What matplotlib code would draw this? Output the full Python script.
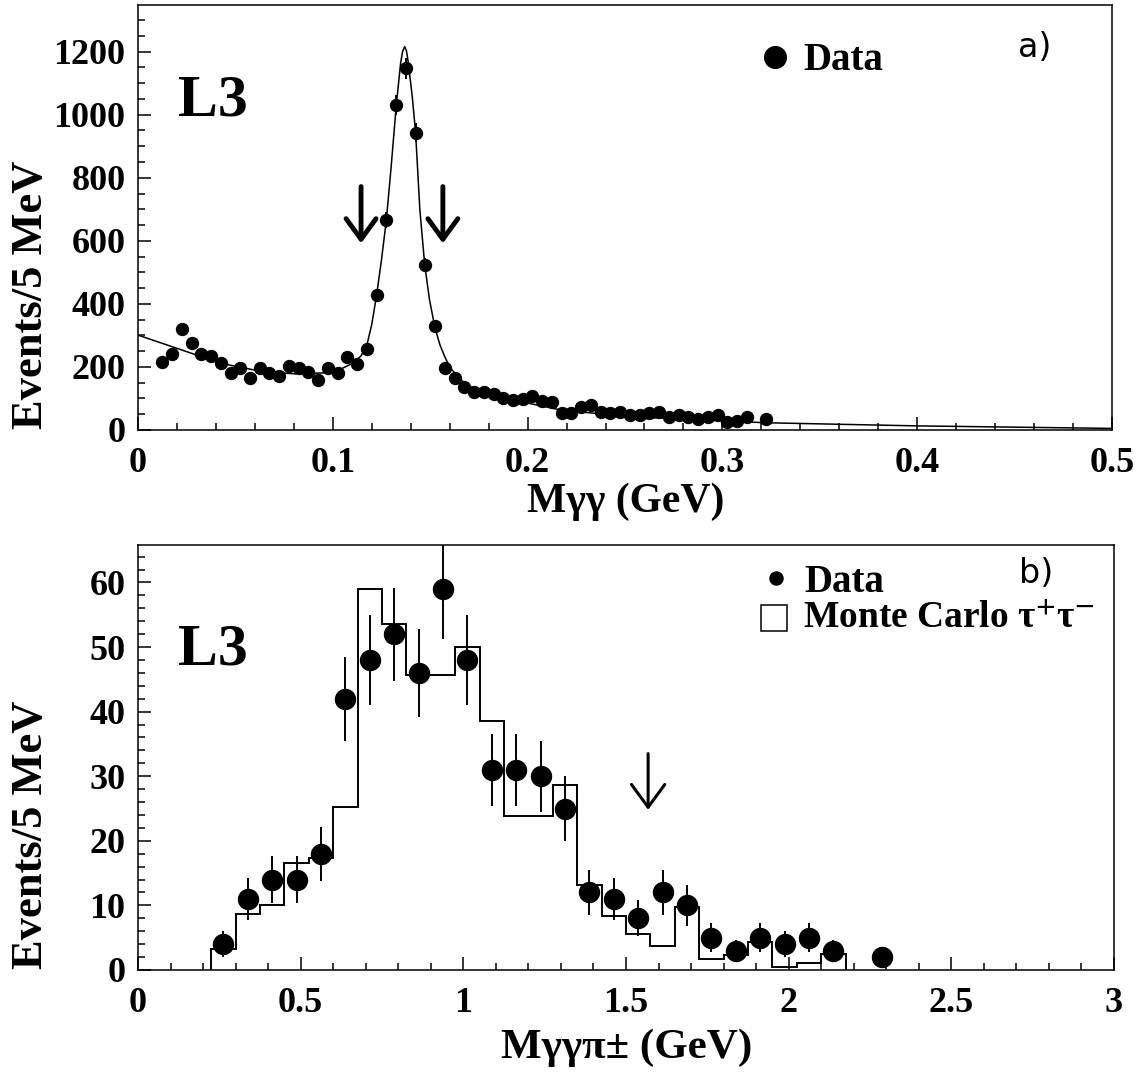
import numpy as np
import matplotlib.pyplot as plt
from matplotlib.ticker import MultipleLocator
from matplotlib.patches import Rectangle

plt.rcParams['font.family'] = ['Liberation Serif', 'DejaVu Serif']
plt.rcParams['font.weight'] = 'bold'
plt.rcParams['mathtext.fontset'] = 'stix'

# --- a) M(gamma gamma) spectrum, 5 MeV bins ---
mgg_x = [0.0125, 0.0175, 0.0225, 0.0275, 0.0325, 0.0375, 0.0425, 0.0475, 0.0525, 0.0575,
         0.0625, 0.0675, 0.0725, 0.0775, 0.0825, 0.0875, 0.0925, 0.0975, 0.1025, 0.1075,
         0.1125, 0.1175, 0.1225, 0.1275, 0.1325, 0.1375, 0.1425, 0.1475, 0.1525, 0.1575,
         0.1625, 0.1675, 0.1725, 0.1775, 0.1825, 0.1875, 0.1925, 0.1975, 0.2025, 0.2075,
         0.2125, 0.2175, 0.2225, 0.2275, 0.2325, 0.2375, 0.2425, 0.2475, 0.2525, 0.2575,
         0.2625, 0.2675, 0.2725, 0.2775, 0.2825, 0.2875, 0.2925, 0.2975, 0.3025, 0.3075,
         0.3125, 0.3225]
mgg_counts = [215, 241, 319, 275, 240, 234, 212, 180, 198, 164,
              196, 180, 172, 203, 198, 183, 160, 198, 180, 232,
              208, 258, 428, 666, 1031, 1147, 943, 523, 331, 198,
              166, 135, 120, 121, 114, 102, 95, 99, 109, 92,
              89, 55, 55, 72, 80, 58, 53, 58, 47, 48,
              53, 58, 42, 48, 42, 34, 42, 48, 26, 30,
              42, 34]
mgg_err = [14.7, 15.5, 17.9, 16.6, 15.5, 15.3, 14.6, 13.4, 14.1, 12.8,
           14.0, 13.4, 13.1, 14.2, 14.1, 13.5, 12.6, 14.1, 13.4, 15.2,
           14.4, 16.1, 20.7, 25.8, 32.1, 33.9, 30.7, 22.9, 18.2, 14.1,
           12.9, 11.6, 11.0, 11.0, 10.7, 10.1, 9.7, 9.9, 10.4, 9.6,
           9.4, 7.4, 7.4, 8.5, 8.9, 7.6, 7.3, 7.6, 6.9, 6.9,
           7.3, 7.6, 6.5, 6.9, 6.5, 5.8, 6.5, 6.9, 5.1, 5.5,
           6.5, 5.8]

# fitted curve
fit_x = [0.0, 0.030, 0.047, 0.064, 0.081, 0.095, 0.103, 0.110, 0.1145, 0.1176,
         0.1200, 0.1225, 0.1250, 0.1275, 0.1300, 0.1326, 0.1348, 0.1358, 0.1369, 0.1378,
         0.1387, 0.1408, 0.1425, 0.1447, 0.1472, 0.1496, 0.1524, 0.1550, 0.1575, 0.1600,
         0.1629, 0.1670, 0.1714, 0.1851, 0.2004, 0.2174, 0.2345, 0.2515, 0.3222, 0.4004,
         0.5]
fit_y = [301, 238, 206, 185, 178, 181, 190, 211, 235, 272,
         335, 428, 540, 666, 838, 1031, 1163, 1200, 1216, 1203,
         1168, 1057, 943, 698, 523, 415, 325, 270, 232, 200,
         178, 152, 135, 106, 85, 63, 53, 42, 23, 13,
         5]

# mass window arrows: x, arrow top, arrow tip
arrows_a = [(0.1145, 772, 592), (0.1565, 772, 592)]

# --- b) M(gamma gamma pi) spectrum ---
mggp_x = [0.2625, 0.3375, 0.4125, 0.4875, 0.5625, 0.6375, 0.7125, 0.7875, 0.8625, 0.9375,
          1.0125, 1.0875, 1.1625, 1.2375, 1.3125, 1.3875, 1.4625, 1.5375, 1.6125, 1.6875,
          1.7625, 1.8375, 1.9125, 1.9875, 2.0625, 2.1375, 2.2875]
mggp_counts = [4, 11, 14, 14, 18, 42, 48, 52, 46, 59,
               48, 31, 31, 30, 25, 12, 11, 8, 12, 10,
               5, 3, 5, 4, 5, 3, 2]
mggp_err = [2.0, 3.3, 3.7, 3.7, 4.2, 6.5, 6.9, 7.2, 6.8, 7.7,
            6.9, 5.6, 5.6, 5.5, 5.0, 3.5, 3.3, 2.8, 3.5, 3.2,
            2.2, 1.7, 2.2, 2.0, 2.2, 1.7, 1.4]

# Monte Carlo tau+tau- histogram
mc_edges = [0.225, 0.3, 0.375, 0.45, 0.525, 0.6, 0.675, 0.75, 0.825, 0.9,
            0.975, 1.05, 1.125, 1.2, 1.275, 1.35, 1.425, 1.5, 1.575, 1.65,
            1.725, 1.8, 1.875, 1.95, 2.025, 2.1, 2.175]
mc_values = [3.3, 8.7, 10.0, 16.6, 17.4, 25.3, 59.0, 53.5, 45.6, 45.6,
             50.0, 38.6, 23.8, 23.8, 28.6, 13.1, 8.3, 5.6, 3.7, 9.7,
             1.7, 2.3, 4.3, 0.4, 1.1, 2.4]

arrows_b = [(1.568, 33.5, 24.8)]

W, H = 1146, 1079
fig = plt.figure(figsize=(W / 100, H / 100), dpi=100)
ax1 = fig.add_axes([138 / W, 1 - 430 / H, (1112 - 138) / W, 425 / H])
ax2 = fig.add_axes([138 / W, 1 - 970 / H, (1114 - 138) / W, 425 / H])


def style_axes(ax):
    for s in ax.spines.values():
        s.set_linewidth(1.1)
    ax.tick_params(which='both', direction='in', top=False, right=False,
                   width=1.1, labelsize=26)
    ax.tick_params(axis='x', pad=12)
    ax.tick_params(axis='y', pad=9)
    ax.tick_params(which='major', length=9.5)
    ax.tick_params(which='minor', length=5)
    for lab in ax.get_xticklabels() + ax.get_yticklabels():
        lab.set_fontweight('bold')


# panel a
ax1.errorbar(mgg_x, mgg_counts, yerr=mgg_err, fmt='o', color='black', ms=8.6,
             elinewidth=1.4, capsize=0)
ax1.plot(fit_x, fit_y, color='black', lw=1.1)
for x, y0, y1 in arrows_a:
    ax1.annotate('', xy=(x, y1), xytext=(x, y0),
                 arrowprops=dict(arrowstyle='->,head_length=0.74,head_width=0.54',
                                 lw=3.5, color='black', shrinkA=0, shrinkB=0,
                                 mutation_scale=20))
ax1.set_xlim(0, 0.5)
ax1.set_ylim(0, 1348)
ax1.xaxis.set_major_locator(MultipleLocator(0.1))
ax1.xaxis.set_minor_locator(MultipleLocator(0.02))
ax1.yaxis.set_major_locator(MultipleLocator(200))
ax1.yaxis.set_minor_locator(MultipleLocator(50))
ax1.set_xticks([0, 0.1, 0.2, 0.3, 0.4, 0.5], ['0', '0.1', '0.2', '0.3', '0.4', '0.5'])
style_axes(ax1)
ax1.set_xlabel('Mγγ (GeV)', fontsize=30, fontweight='bold')
ax1.xaxis.set_label_coords(0.501, -0.124)
ax1.set_ylabel('Events/5 MeV', fontsize=32, fontweight='bold')
ax1.yaxis.set_label_coords(-0.089, 0.317)
ax1.text(0.041, 0.741, 'L3', transform=ax1.transAxes, fontsize=43, fontweight='bold')
ax1.plot([0.654], [0.878], 'o', color='black', ms=15.6, transform=ax1.transAxes, clip_on=False)
ax1.text(0.683, 0.847, 'Data', transform=ax1.transAxes, fontsize=28, fontweight='bold')
ax1.text(0.903, 0.878, 'a)', transform=ax1.transAxes, fontsize=24,
         family='DejaVu Sans', fontweight='normal')

# panel b
ax2.stairs(mc_values, mc_edges, baseline=0, color='black', lw=1.4)
ax2.errorbar(mggp_x, mggp_counts, yerr=mggp_err, fmt='o', color='black', ms=14.4,
             elinewidth=1.4, capsize=0)
for x, y0, y1 in arrows_b:
    ax2.annotate('', xy=(x, y1), xytext=(x, y0),
                 arrowprops=dict(arrowstyle='->,head_length=0.82,head_width=0.6',
                                 lw=2.2, color='black', shrinkA=0, shrinkB=0,
                                 mutation_scale=20))
ax2.set_xlim(0, 3)
ax2.set_ylim(0, 65.8)
ax2.xaxis.set_major_locator(MultipleLocator(0.5))
ax2.xaxis.set_minor_locator(MultipleLocator(0.1))
ax2.yaxis.set_major_locator(MultipleLocator(10))
ax2.yaxis.set_minor_locator(MultipleLocator(2))
ax2.set_xticks([0, 0.5, 1, 1.5, 2, 2.5, 3], ['0', '0.5', '1', '1.5', '2', '2.5', '3'])
style_axes(ax2)
ax2.set_xlabel('Mγγπ± (GeV)', fontsize=31, fontweight='bold')
ax2.xaxis.set_label_coords(0.501, -0.137)
ax2.set_ylabel('Events/5 MeV', fontsize=32, fontweight='bold')
ax2.yaxis.set_label_coords(-0.089, 0.317)
ax2.text(0.041, 0.718, 'L3', transform=ax2.transAxes, fontsize=43, fontweight='bold')
ax2.plot([0.654], [0.922], 'o', color='black', ms=9.4, transform=ax2.transAxes, clip_on=False)
ax2.text(0.683, 0.890, 'Data', transform=ax2.transAxes, fontsize=28, fontweight='bold')
ax2.add_patch(Rectangle((0.638, 0.798), 0.027, 0.061, transform=ax2.transAxes,
                        facecolor='white', edgecolor='black', lw=1.1))
ax2.text(0.681, 0.804, 'Monte Carlo τ$^{+}$τ$^{-}$', transform=ax2.transAxes,
         fontsize=27, fontweight='bold')
ax2.text(0.903, 0.911, 'b)', transform=ax2.transAxes, fontsize=24,
         family='DejaVu Sans', fontweight='normal')

fig.savefig('out.png', dpi=100)
